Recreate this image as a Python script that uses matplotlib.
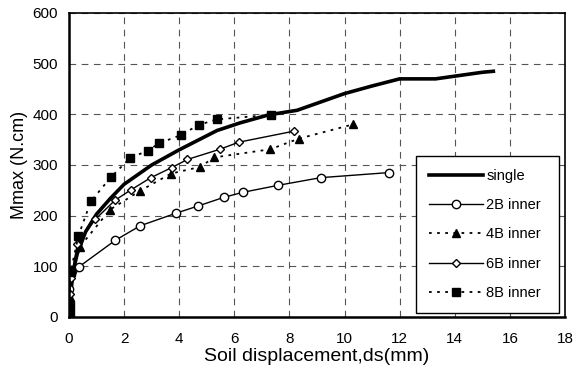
import numpy as np
import matplotlib.pyplot as plt

plt.rcParams['font.family'] = ['Liberation Sans', 'DejaVu Sans']

# data (ds in mm, Mmax in N.cm)
single_x = [0, 0.05, 0.15, 0.3, 0.6, 1.0, 1.5, 2.0, 3.0, 4.0, 5.37, 6.2, 7.25, 8.28, 10.0, 11.0, 12.0, 13.3, 15.0, 15.4]
single_y = [0, 40, 90, 125, 168, 203, 234, 262, 300, 330, 368, 383, 399, 408, 441, 456, 470, 470, 483, 485]

b2_x = [0, 0.01, 0.36, 1.67, 2.58, 3.89, 4.68, 5.61, 6.3, 7.6, 9.13, 11.6]
b2_y = [0, 55, 99, 151, 180, 205, 219, 236, 246, 260, 275, 285]

b4_x = [0, 0.03, 0.05, 0.4, 1.49, 2.58, 3.7, 4.74, 5.28, 7.3, 8.34, 10.3]
b4_y = [0, 40, 90, 139, 212, 249, 283, 296, 315, 331, 352, 380]

b6_x = [0, 0.03, 0.08, 0.3, 0.96, 1.66, 2.25, 2.97, 3.73, 4.3, 5.47, 6.16, 8.18]
b6_y = [0, 45, 77, 144, 193, 230, 251, 275, 295, 311, 331, 345, 367]

b8_x = [0, 0.02, 0.03, 0.06, 0.34, 0.79, 1.52, 2.22, 2.85, 3.27, 4.06, 4.7, 5.37, 7.33]
b8_y = [0, 8, 24, 89, 160, 228, 276, 314, 328, 343, 359, 379, 390, 399]

fig = plt.figure(figsize=(5.76, 3.74), dpi=100)
ax = fig.add_axes([69/576, 1 - 317/374, 496/576, 304/374])

ax.plot(single_x, single_y, '-', color='black', lw=2.6, label='single')
ax.plot(b2_x, b2_y, '-', color='black', lw=1.0, marker='o', ms=6,
        mfc='white', mec='black', mew=1.0, label='2B inner')
ax.plot(b4_x, b4_y, color='black', lw=1.3, ls=(0, (1.5, 3)), marker='^', ms=6,
        mfc='black', mec='black', label='4B inner')
ax.plot(b6_x, b6_y, '-', color='black', lw=1.0, marker='D', ms=4.5,
        mfc='white', mec='black', mew=1.0, label='6B inner')
ax.plot(b8_x, b8_y, color='black', lw=1.3, ls=(0, (1.5, 3)), marker='s', ms=6,
        mfc='black', mec='black', label='8B inner')

ax.set_xlim(0, 18)
ax.set_ylim(0, 600)
ax.set_xticks(np.arange(0, 19, 2))
ax.set_yticks(np.arange(0, 601, 100))
ax.grid(True, ls=(0, (6, 5)), color='#555555', lw=0.8)
ax.tick_params(length=0, labelsize=11)
ax.tick_params(axis='x', pad=11)
ax.tick_params(axis='y', pad=8)

for s in ['left', 'bottom']:
    ax.spines[s].set_linewidth(1.8)
for s in ['top', 'right']:
    ax.spines[s].set_linewidth(1.2)

ax.set_xlabel('Soil displacement,ds(mm)', fontsize=14, labelpad=1)
ax.set_ylabel('Mmax (N.cm)', fontsize=13, labelpad=3)

leg = ax.legend(loc='lower left', bbox_to_anchor=(0.70, 0.013, 0.288, 0.52),
                mode='expand', fontsize=10.5, frameon=True, fancybox=False,
                handlelength=3.7, borderaxespad=0, labelspacing=1.05,
                handletextpad=0.2, borderpad=0.9)
leg.get_frame().set_edgecolor('black')
leg.get_frame().set_linewidth(1.0)
leg.get_frame().set_alpha(1)

fig.savefig('out.png', dpi=100)
